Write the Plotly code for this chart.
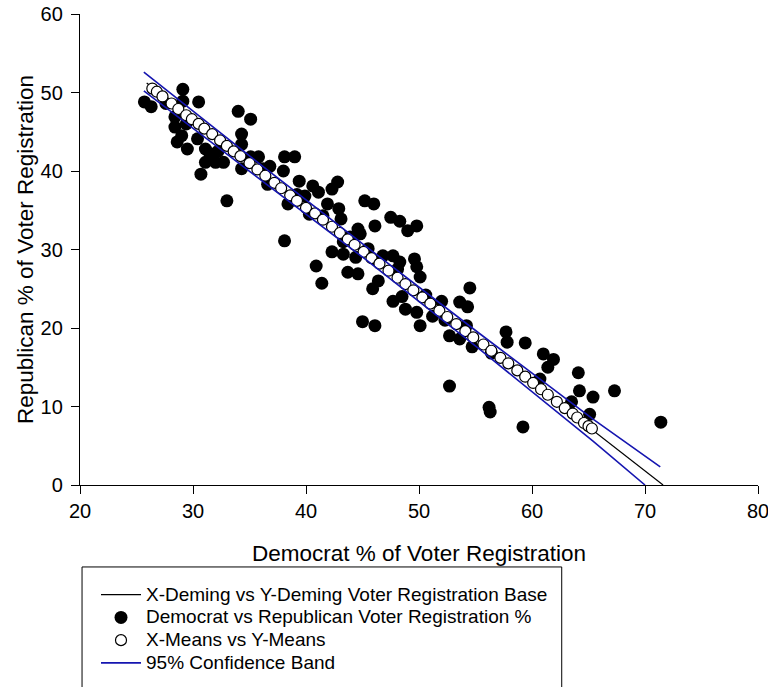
import plotly.graph_objects as go

# Observed data: Democrat % (x) vs Republican % (y)
dem_pct = [25.7, 26.3, 29.1, 29.1, 30.5, 34.0, 35.1, 28.4, 28.4, 29.4, 29.0, 28.6, 29.5, 30.4,
           31.1, 31.5, 34.3, 34.3, 32.2, 31.1, 32.0, 32.7, 34.3, 30.7, 33.0, 35.1, 35.8,
           38.1, 39.0, 36.8, 38.0, 36.6, 39.4, 40.6, 41.1, 42.8, 42.3, 38.4, 39.9, 41.9, 42.9,
           40.3, 41.5, 43.1, 45.2, 44.6, 44.8, 38.1, 42.3, 43.3, 44.4, 40.9, 41.4,
           46.0, 47.5, 48.3, 49.8, 49.0, 46.1, 43.9, 43.7, 44.6, 45.5, 46.8, 47.7, 48.3, 49.6,
           49.8, 50.1, 46.4, 45.9, 47.7, 48.5, 48.8, 49.8, 50.1, 45.0, 46.1,
           54.5, 52.0, 53.6, 54.3, 51.2, 52.7, 53.6, 54.7, 57.7, 57.8, 59.4, 54.2,
           52.7, 56.2, 56.3, 59.2, 61.0, 61.9, 61.4, 64.1, 60.7, 67.3, 64.2, 65.4, 63.5,
           65.1, 71.4, 36.2, 39.2, 43.3, 46.3, 52.3, 56.4, 50.6, 48.1, 27.6]
rep_pct = [48.8, 48.2, 50.4, 48.9, 48.8, 47.6, 46.6, 46.9, 45.6, 46.0, 44.5, 43.7, 42.8, 44.1,
           42.8, 42.2, 44.7, 43.4, 42.5, 41.1, 41.1, 41.1, 40.3, 39.6, 36.2, 41.8, 41.8,
           41.8, 41.8, 40.6, 40.0, 38.3, 38.7, 38.1, 37.3, 38.6, 37.7, 35.8, 36.8, 35.8, 35.2,
           34.5, 34.3, 33.9, 36.2, 32.6, 32.0, 31.1, 29.7, 29.4, 29.0, 27.9, 25.7,
           35.8, 34.1, 33.6, 33.0, 32.4, 33.0, 31.6, 27.1, 26.9, 30.1, 29.2, 29.2, 28.4, 28.8,
           27.8, 26.5, 26.0, 25.0, 23.4, 24.0, 22.4, 22.0, 20.3, 20.8, 20.3,
           25.1, 23.4, 23.3, 22.7, 21.5, 19.0, 18.6, 17.6, 19.5, 18.2, 18.1, 20.3,
           12.6, 9.9, 9.3, 7.4, 16.7, 16.0, 15.0, 14.3, 13.5, 12.0, 12.0, 11.2, 10.6,
           9.0, 8.0, 40.3, 37.0, 31.0, 28.6, 21.0, 16.8, 24.2, 27.5, 48.6]

# X-Means vs Y-Means (points on the Deming line)
xmeans = [26.4, 26.8, 27.3, 28.1, 28.7, 29.4, 29.9, 30.5, 31.0, 31.7, 32.4, 33.0, 33.6, 34.2,
          35.0, 35.7, 36.4, 37.2, 37.8, 38.6, 39.2, 40.0, 40.8, 41.5, 42.3, 43.0, 43.7, 44.3,
          45.1, 45.8, 46.5, 47.3, 48.1, 48.8, 49.5, 50.3, 51.0, 51.8, 52.5, 53.3, 54.1, 54.8,
          55.7, 56.4, 57.2, 57.9, 58.7, 59.4, 60.1, 60.8, 61.4, 62.2, 62.9, 63.6, 64.0, 64.6,
          65.0, 65.3]
ymeans = [50.5, 50.1, 49.5, 48.6, 47.9, 47.1, 46.6, 46.0, 45.4, 44.7, 43.9, 43.2, 42.5, 41.9,
          41.0, 40.2, 39.4, 38.5, 37.8, 36.9, 36.2, 35.3, 34.6, 33.8, 32.9, 32.1, 31.3, 30.6,
          29.7, 28.9, 28.2, 27.3, 26.4, 25.6, 24.8, 23.9, 23.1, 22.2, 21.4, 20.5, 19.6, 18.8,
          17.9, 17.1, 16.2, 15.5, 14.6, 13.8, 13.0, 12.2, 11.5, 10.6, 9.8, 9.1, 8.6, 7.9,
          7.5, 7.2]

# Deming regression line
deming_x = [25.9, 71.6]
deming_y = [51.2, 0.0]

# 95% confidence band
band_up_x = [25.65, 35.2, 45.3, 55.35, 65.4, 71.35]
band_up_y = [52.6, 41.7, 30.4, 19.3, 8.4, 2.3]
band_lo_x = [25.65, 35.2, 45.3, 55.35, 65.4, 70.0]
band_lo_y = [50.2, 39.8, 28.7, 17.3, 5.6, 0.0]

x_ticks = [20, 30, 40, 50, 60, 70, 80]
y_ticks = [0, 10, 20, 30, 40, 50, 60]

legend_names = ["X-Deming vs Y-Deming Voter Registration Base",
                "Democrat vs Republican Voter Registration %",
                "X-Means vs Y-Means",
                "95% Confidence Band"]

FONT = "Liberation Sans, Arial, sans-serif"
BLUE = "#1515b0"


def lg(name):
    # legend label drawn at 19px while rows keep the tighter spacing of the reference
    return "<span style='font-size:19px'>" + name + "</span>"


fig = go.Figure()
fig.add_trace(go.Scatter(x=deming_x, y=deming_y, mode="lines",
                         line=dict(color="black", width=1.2),
                         name=lg(legend_names[0])))
fig.add_trace(go.Scatter(x=dem_pct, y=rep_pct, mode="markers",
                         marker=dict(color="black", size=13, line=dict(width=0)),
                         name=lg(legend_names[1])))
fig.add_trace(go.Scatter(x=xmeans, y=ymeans, mode="markers",
                         marker=dict(color="white", size=11, line=dict(color="black", width=1.2)),
                         name=lg(legend_names[2])))
fig.add_trace(go.Scatter(x=band_up_x, y=band_up_y, mode="lines",
                         line=dict(color=BLUE, width=1.6),
                         name=lg(legend_names[3]), legendgroup="band"))
fig.add_trace(go.Scatter(x=band_lo_x, y=band_lo_y, mode="lines",
                         line=dict(color=BLUE, width=1.6),
                         name=lg(legend_names[3]), legendgroup="band", showlegend=False))

fig.add_shape(type="rect", xref="paper", yref="paper",
              x0=0.003, x1=0.7105, y0=-0.45, y1=-0.174,
              line=dict(color="black", width=1), fillcolor="rgba(0,0,0,0)")

fig.update_layout(
    width=768, height=687,
    margin=dict(l=80, r=10, t=14, b=202, autoexpand=False),
    paper_bgcolor="white", plot_bgcolor="white",
    font=dict(family=FONT, color="black", size=18),
    showlegend=True,
    legend=dict(x=0.0236, y=-0.198, xanchor="left", yanchor="top",
                bgcolor="rgba(0,0,0,0)", borderwidth=0,
                font=dict(family=FONT, size=15.2, color="black"),
                itemwidth=40, tracegroupgap=0),
    xaxis=dict(range=[20, 80], tickvals=x_ticks, showline=True, linecolor="black",
               linewidth=1.3, ticks="outside", ticklen=8, tickcolor="black",
               showgrid=False, zeroline=False, ticklabeloverflow="allow",
               automargin=False,
               tickfont=dict(family=FONT, size=20),
               title=dict(text="Democrat % of Voter Registration",
                          font=dict(family=FONT, size=22.5), standoff=24)),
    yaxis=dict(range=[0, 60], tickvals=y_ticks, showline=True, linecolor="black",
               linewidth=1.3, ticks="outside", ticklen=8, tickcolor="black",
               showgrid=False, zeroline=False, automargin=False,
               ticklabelstandoff=4,
               tickfont=dict(family=FONT, size=20),
               title=dict(text="Republican % of Voter Registration",
                          font=dict(family=FONT, size=22.5), standoff=0)),
)

fig.write_html("out.html")
